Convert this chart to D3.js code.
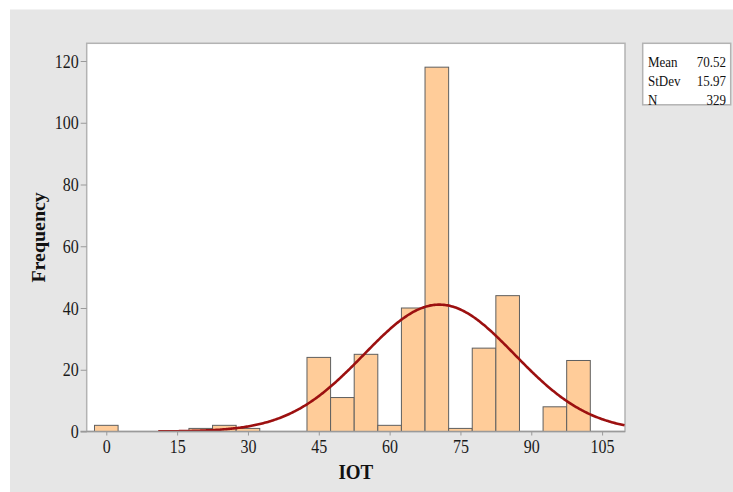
<!DOCTYPE html>
<html>
<head>
<meta charset="utf-8">
<script src="https://cdn.jsdelivr.net/npm/d3@7"></script>
<style>
  html, body { margin: 0; padding: 0; background: #ffffff; }
  svg { display: block; }
  text { font-family: "Liberation Serif", "Times New Roman", serif; }
</style>
</head>
<body>
<svg id="chart" width="733" height="492"></svg>
<script>
// ---- data ----
const binCenters = [0, 5, 10, 15, 20, 25, 30, 35, 40, 45, 50, 55, 60, 65, 70, 75, 80, 85, 90, 95, 100];
const frequencies = [2, 0, 0, 0, 1, 2, 1, 0, 0, 24, 11, 25, 2, 40, 118, 1, 27, 44, 0, 8, 23];
const xTicks = [0, 15, 30, 45, 60, 75, 90, 105];
const yTicks = [0, 20, 40, 60, 80, 100, 120];
const statLabels = ["Mean", "StDev", "N"];
const statValues = ["70.52", "15.97", "329"];
const fitMean = 70.52, fitSd = 15.97, fitN = 329, binWidth = 5;
const curveStart = 11;

// ---- layout ----
const svg = d3.select("#chart");
const W = 733, H = 492;
const plot = { left: 86.7, right: 625, top: 43.3, bottom: 431.5 };
const stretch = 1.15;

svg.append("rect").attr("x", 10).attr("y", 9.5).attr("width", W - 10).attr("height", H - 9.5)
  .attr("fill", "#e6e6e6");

const x = d3.scaleLinear().domain([-4.15, 109.85]).range([plot.left, plot.right]);
const y = d3.scaleLinear().domain([0, 120]).range([plot.bottom, 61]);

// plot area
svg.append("rect").attr("x", plot.left).attr("y", plot.top)
  .attr("width", plot.right - plot.left).attr("height", plot.bottom - plot.top)
  .attr("fill", "#ffffff").attr("stroke", "#b3b3b3").attr("stroke-width", 1.5);

svg.append("clipPath").attr("id", "clip").append("rect")
  .attr("x", plot.left).attr("y", plot.top)
  .attr("width", plot.right - plot.left).attr("height", plot.bottom - plot.top);

// bars
svg.append("g").selectAll("rect")
  .data(binCenters.map((c, i) => ({ c, f: frequencies[i] })).filter(d => d.f > 0))
  .join("rect")
  .attr("x", d => x(d.c - binWidth / 2))
  .attr("width", d => x(d.c + binWidth / 2) - x(d.c - binWidth / 2))
  .attr("y", d => y(d.f))
  .attr("height", d => y(0) - y(d.f))
  .attr("fill", "#ffcc99")
  .attr("stroke", "#5f5f5f")
  .attr("stroke-width", 1);

// fitted normal curve
const curvePts = d3.range(curveStart, 109.85, 0.25).map(v => [v,
  fitN * binWidth / (fitSd * Math.sqrt(2 * Math.PI)) * Math.exp(-0.5 * Math.pow((v - fitMean) / fitSd, 2))]);
svg.append("path").datum(curvePts)
  .attr("clip-path", "url(#clip)")
  .attr("d", d3.line().x(d => x(d[0])).y(d => y(d[1])))
  .attr("fill", "none").attr("stroke", "#9c1010").attr("stroke-width", 2.6);

// axes
const xAxis = svg.append("g").attr("transform", `translate(0,${plot.bottom})`)
  .call(d3.axisBottom(x).tickValues(xTicks).tickSize(4).tickPadding(6).tickFormat(d3.format("d")));
const yAxis = svg.append("g").attr("transform", `translate(${plot.left},0)`)
  .call(d3.axisLeft(y).tickValues(yTicks).tickSize(6).tickPadding(2).tickFormat(d3.format("d")));

[xAxis, yAxis].forEach(g => {
  g.select(".domain").remove();
  g.selectAll(".tick line").attr("stroke", "#9a9a9a").attr("stroke-width", 1);
  g.selectAll(".tick text").attr("fill", "#1a1a1a")
    .style("font-family", "'Liberation Serif', serif").style("font-size", "16px");
});
// vertical stretch of tick labels like the reference
xAxis.selectAll(".tick text").attr("y", 0).attr("dy", 0)
  .attr("transform", `translate(0,21.5) scale(1,${stretch})`);
yAxis.selectAll(".tick text").attr("dy", 0)
  .attr("transform", `translate(0,6) scale(1,${stretch})`);

// x-axis baseline extends left through y tick
svg.append("line").attr("x1", 80.5).attr("x2", plot.right).attr("y1", plot.bottom).attr("y2", plot.bottom)
  .attr("stroke", "#9a9a9a").attr("stroke-width", 1.5);

// axis titles
svg.append("text").attr("transform", `translate(${(plot.left + plot.right) / 2},479) scale(1,1.1)`)
  .attr("text-anchor", "middle").style("font-size", "19px").style("font-weight", "bold")
  .attr("fill", "#111").text("IOT");
svg.append("text").attr("transform", `translate(44.5,${(plot.top + plot.bottom) / 2}) scale(1,1.05) rotate(-90)`)
  .attr("text-anchor", "middle").style("font-size", "19px").style("font-weight", "bold")
  .attr("fill", "#111").text("Frequency");

// stats box
const box = svg.append("g");
box.append("rect").attr("x", 642.7).attr("y", 43.3).attr("width", 88).attr("height", 61.5)
  .attr("fill", "#ffffff").attr("stroke", "#b3b3b3").attr("stroke-width", 1.5);
statLabels.forEach((lab, i) => {
  box.append("text").attr("transform", `translate(648,${66.5 + i * 19}) scale(1,1.1)`)
    .style("font-size", "13px").attr("fill", "#111").text(lab);
  box.append("text").attr("transform", `translate(726,${66.5 + i * 19}) scale(1,1.1)`)
    .attr("text-anchor", "end").style("font-size", "13px").attr("fill", "#111").text(statValues[i]);
});
</script>
</body>
</html>
